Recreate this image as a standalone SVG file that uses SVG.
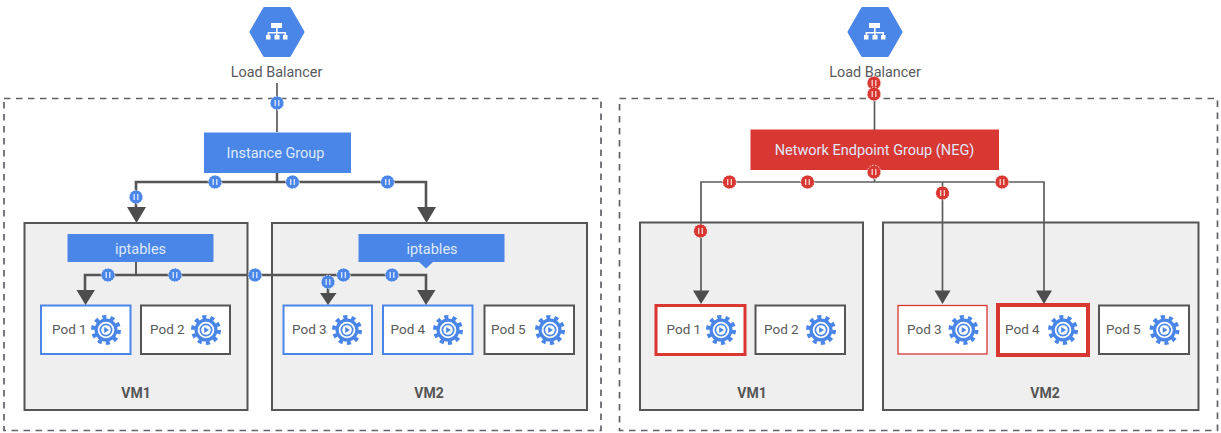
<svg xmlns="http://www.w3.org/2000/svg" width="1221" height="433" viewBox="0 0 1221 433">
<style>
text{font-family:Roboto,"Liberation Sans",sans-serif}
.lb{font-size:14.400px;fill:#5a5a5e;text-anchor:middle}
.w{font-size:14.500px;fill:#dfe9fb;text-anchor:middle}
.pod{font-size:13.500px;fill:#5a5a5a}
.vm{font-size:14px;font-weight:700;fill:#555;text-anchor:middle}
.boundary{fill:none;stroke:#5f6368;stroke-width:1.700;stroke-dasharray:6.500 5.500}
.vmbox{fill:#efefef;stroke:#555;stroke-width:2}
.podbox{fill:#fff;stroke:#555;stroke-width:2}
.blue{stroke:#4a86e8}
.fill-blue{fill:#4a86e8}
.fill-red{fill:#d93732}
.thick{fill:none;stroke:#555;stroke-width:2.600}
.thin{fill:none;stroke:#5c5c5c;stroke-width:1.700}
.head{fill:#4d4d4d}
</style>
<defs>
<g id="hex">
<path d="M251 32 264.500 8.500H289.500L303 32 289.500 55.500H264.500Z" fill="#4a86e8" stroke="#4a86e8" stroke-width="3" stroke-linejoin="round"/>
<path d="M271 23h11v5h-11zM276 28h1.600v4h8.400v3h-1.500v-1.600h-7v1.600h-1.500v-1.600h-6.900v1.600h-1.500v-3h8.400z" fill="#fff"/>
<path d="M266 35h4.500v4.500h-4.500zM274.500 35h5v4.500h-5zM283 35h4.500v4.500h-4.500z" fill="#fff"/>
</g>
<g id="gear">
<circle r="11.500" fill="#4a86e8"/>
<circle r="12.800" fill="none" stroke="#4a86e8" stroke-width="4.400" stroke-dasharray="4.020 4.020"/>
<circle r="7.400" fill="none" stroke="#fff" stroke-width="1.800"/>
<circle r="4.800" fill="#fff"/>
<path d="M-1.800-3 3 0-1.800 3Z" fill="#4a86e8"/>
</g>
<g id="bb">
<circle r="6.800" fill="#4a86e8" stroke="#fff" stroke-width="0.800" stroke-dasharray="1.500 1.500"/>
<path d="M-1.800-3v6M1.800-3v6" stroke="#dfe9fb" stroke-width="1.300"/>
</g>
<g id="rb">
<circle r="6.800" fill="#d93732" stroke="#fff" stroke-width="0.800" stroke-dasharray="1.500 1.500"/>
<path d="M-1.800-3v6M1.800-3v6" stroke="#f6d5d3" stroke-width="1.300"/>
</g>
</defs>

<g id="left-boundary"><rect class="boundary" x="4" y="98.500" width="597" height="332"/></g>
<g id="right-boundary"><rect class="boundary" x="619.500" y="98.500" width="598" height="332"/></g>

<g id="lb-left"><use href="#hex"/><text class="lb" x="276.500" y="77">Load Balancer</text></g>
<g id="lb-right"><use href="#hex" x="598"/><text class="lb" x="875" y="77">Load Balancer</text></g>

<g id="vm1-left"><rect class="vmbox" x="24.500" y="223" width="223" height="187"/><text class="vm" x="136" y="398">VM1</text></g>
<g id="vm2-left"><rect class="vmbox" x="272" y="223" width="315" height="187"/><text class="vm" x="429" y="398">VM2</text></g>
<g id="vm1-right"><rect class="vmbox" x="640" y="222.500" width="223" height="187.500"/><text class="vm" x="752" y="398">VM1</text></g>
<g id="vm2-right"><rect class="vmbox" x="883" y="222.500" width="315.500" height="187.500"/><text class="vm" x="1045" y="398">VM2</text></g>

<g id="instance-group"><rect class="fill-blue" x="204" y="132.500" width="147" height="40.500"/><text class="w" x="275.500" y="158">Instance Group</text></g>
<g id="neg"><rect class="fill-red" x="750.500" y="129.500" width="248.500" height="40.500"/><text class="w" x="874.500" y="154.500">Network Endpoint Group (NEG)</text></g>
<g id="iptables-1"><rect class="fill-blue" x="67.500" y="234" width="146" height="28"/><text class="w" x="140.500" y="254">iptables</text></g>
<g id="iptables-2"><rect class="fill-blue" x="358.500" y="234" width="146" height="28"/><text class="w" x="432" y="254">iptables</text></g>

<g id="pod1-left"><rect class="podbox blue" x="41" y="305.500" width="89.500" height="48.500"/><text class="pod" x="52" y="333.500">Pod 1</text><use href="#gear" x="106" y="330"/></g>
<g id="pod2-left"><rect class="podbox" x="141" y="305.500" width="89" height="48.500"/><text class="pod" x="150" y="333.500">Pod 2</text><use href="#gear" x="206" y="330"/></g>
<g id="pod3-left"><rect class="podbox blue" x="283.500" y="305.500" width="88.500" height="48.500"/><text class="pod" x="292" y="333.500">Pod 3</text><use href="#gear" x="347" y="330"/></g>
<g id="pod4-left"><rect class="podbox blue" x="383" y="305.500" width="89.500" height="48.500"/><text class="pod" x="390.500" y="333.500">Pod 4</text><use href="#gear" x="448" y="330"/></g>
<g id="pod5-left"><rect class="podbox" x="484.500" y="305.500" width="89.500" height="48.500"/><text class="pod" x="491" y="333.500">Pod 5</text><use href="#gear" x="550" y="330"/></g>

<g id="pod1-right"><rect class="podbox" style="stroke:#d93732;stroke-width:3" x="656" y="305.500" width="89" height="49"/><text class="pod" x="666.500" y="333.500">Pod 1</text><use href="#gear" x="721" y="330"/></g>
<g id="pod2-right"><rect class="podbox" x="755.500" y="305.500" width="89.500" height="48.500"/><text class="pod" x="764" y="333.500">Pod 2</text><use href="#gear" x="821" y="330"/></g>
<g id="pod3-right"><rect class="podbox" style="stroke:#d93732;stroke-width:1.300" x="898" y="305.500" width="89" height="48.500"/><text class="pod" x="907" y="333.500">Pod 3</text><use href="#gear" x="963.500" y="330"/></g>
<g id="pod4-right"><rect class="podbox" style="stroke:#d93732;stroke-width:4" x="998" y="305" width="90" height="50"/><text class="pod" x="1005" y="333.500">Pod 4</text><use href="#gear" x="1063" y="330"/></g>
<g id="pod5-right"><rect class="podbox" x="1099" y="305.500" width="90" height="48.500"/><text class="pod" x="1106" y="333.500">Pod 5</text><use href="#gear" x="1164.500" y="330"/></g>

<g id="connectors">
<path class="thin" d="M277 83V132"/>
<path class="thick" d="M277 173V182M136 208V182H426V208"/>
<path class="head" d="M127 207H146L136.500 223ZM417 207H436L426.500 223Z"/>
<path class="thin" style="stroke-width:2" d="M136 262V275"/>
<path class="thick" d="M85 291V275H426V291M328 275V293"/>
<path class="head" d="M76.500 290H95L85.500 305ZM417 290H435.500L426 305ZM320 293H336.500L328 305Z"/>
<path class="thin" d="M874.500 83V130"/>
<path class="thin" d="M874.500 170V182M701 291V182H1044V291M942.500 182V291"/>
<path class="head" d="M693 290.500H709.500L701 304ZM934.500 290.500H950.500L942.500 304ZM1036 290.500H1052L1044 304Z"/>
</g>

<g id="badges">
<use href="#bb" x="277" y="103"/><use href="#bb" x="215" y="182"/><use href="#bb" x="292.500" y="182"/><use href="#bb" x="387.500" y="182"/><use href="#bb" x="136" y="197"/>
<use href="#bb" x="108" y="275"/><use href="#bb" x="175" y="275"/><use href="#bb" x="255" y="275"/><use href="#bb" x="343.500" y="275"/><use href="#bb" x="392" y="275"/><use href="#bb" x="328" y="282"/>
<path class="fill-blue" d="M419 262H433L426 268.500Z"/>
<use href="#rb" x="874" y="83"/><use href="#rb" x="874" y="94"/><use href="#rb" x="729.500" y="182"/><use href="#rb" x="807.500" y="182"/><use href="#rb" x="874" y="172"/><use href="#rb" x="1002" y="182"/><use href="#rb" x="942.500" y="193"/><use href="#rb" x="700.500" y="231"/>
</g>
</svg>
